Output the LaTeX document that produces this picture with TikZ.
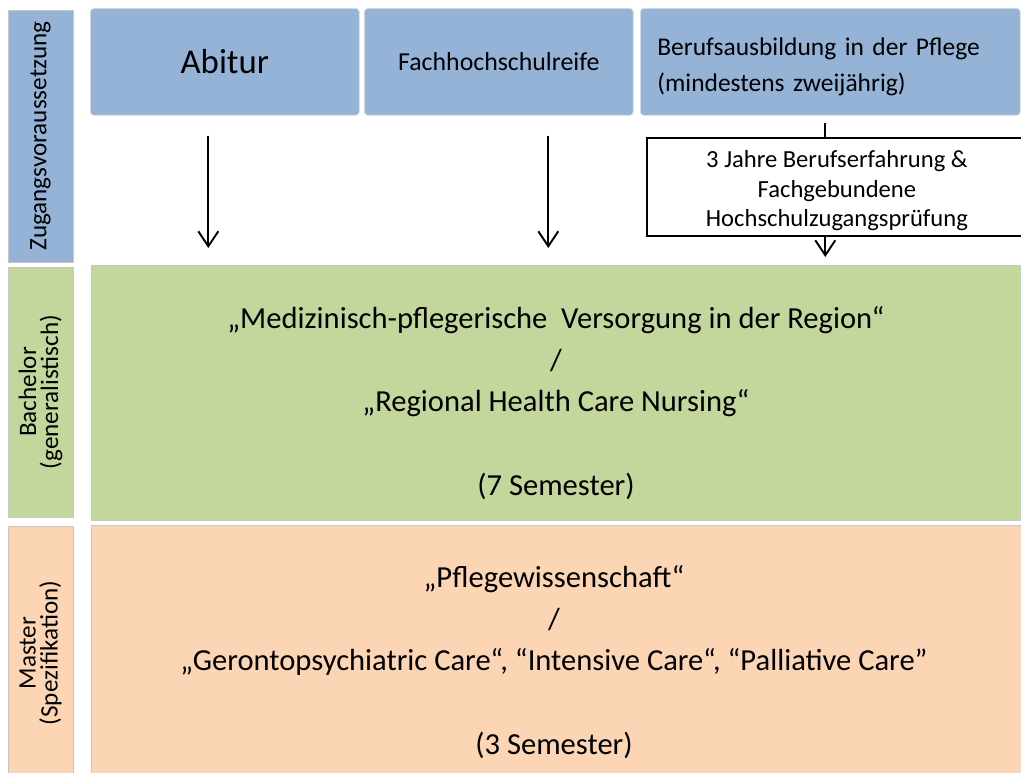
\documentclass[tikz,border=0pt]{standalone}
\usepackage{fontspec}
\setmainfont{Carlito}
\usetikzlibrary{arrows.meta,positioning}

\definecolor{entryblue}{HTML}{95B3D7}
\definecolor{bachgreen}{HTML}{C3D69B}
\definecolor{masterpeach}{HTML}{FCD5B5}

\begin{document}
\begin{tikzpicture}[x=0.02cm, y=-0.02cm,
      >={Straight Barb[length=0.3cm,width=0.4cm,line width=1.1pt]},
      lbl/.style={draw=black!22, line width=0.5pt, rotate=90, minimum height=1.3cm, inner sep=0pt, align=center,
        font=\fontsize{14.3}{12.5}\selectfont},
      entry/.style={draw=black!12, fill=entryblue, rounded corners=2pt, anchor=north west, minimum height=2.14cm, inner sep=0pt, align=center},
      stage/.style={draw=black!22, line width=0.5pt, anchor=north west, minimum width=18.7cm, inner sep=0pt},
      stagetext/.style={align=center, font=\fontsize{17.4}{23.8}\selectfont},
      arr/.style={->, line width=1.1pt}]
    \useasboundingbox (0,0) rectangle (1021,773);
    \clip (0,0) rectangle (1021,773);
    % row labels on the left
    \node[lbl, fill=entryblue, minimum width=5.04cm] (zugang) at (40.5,136) {Zugangsvoraussetzung};
    \node[lbl, fill=bachgreen, minimum width=5.0cm] (bachlbl) at (40.5,392) {Bachelor\\(generalistisch)};
    \node[lbl, fill=masterpeach, minimum width=5.08cm] (masterlbl) at (40.5,653) {Master\\(Spezifikation)};
    % entry requirements
    \node[entry, minimum width=5.38cm, font=\fontsize{19.8}{22}\selectfont] (abitur) at (90,8) {Abitur};
    \node[entry, minimum width=5.38cm, font=\fontsize{14.7}{18}\selectfont] (fhr) at (364,8) {Fachhochschulreife};
    \node[entry, minimum width=7.6cm, text width=6.92cm, inner xsep=0.34cm, align=left,
      font=\fontsize{14.5}{20.4}\selectfont] (beruf) at (640,8) {\rule{0pt}{0.54cm}Berufsausbildung in der Pflege\\(mindestens zweijährig)};
    \node[draw, line width=1.1pt, fill=white, anchor=north west, minimum width=7.6cm, minimum height=1.96cm,
      inner sep=0pt, align=center, font=\fontsize{14}{16.6}\selectfont] (pruef) at (646,137)
      {\rule{0pt}{0.49cm}3 Jahre Berufserfahrung \&\\Fachgebundene\\Hochschulzugangsprüfung};
    % study programmes
    \node[stage, fill=bachgreen, minimum height=5.1cm] (bachelor) at (91,265) {};
    \node[stagetext] (bachtext) at (556,403) {„Medizinisch-pflegerische\ \ Versorgung in der Region“\\/\\„Regional Health Care Nursing“\\[23.8pt](7 Semester)};
    \node[stage, fill=masterpeach, minimum height=5.4cm] (master) at (91,525) {};
    \node[stagetext] (mastertext) at (554,662) {„Pflegewissenschaft“\\/\\„Gerontopsychiatric Care“, “Intensive Care“, “Palliative Care”\\[23.8pt](3 Semester)};
    % arrows
    \draw[arr, shorten <=0.4cm, shorten >=0.34cm] ([xshift=-0.33cm]abitur.south) -- ([xshift=-0.33cm]abitur.south |- bachelor.north);
    \draw[arr, shorten <=0.4cm, shorten >=0.34cm] ([xshift=0.99cm]fhr.south) -- ([xshift=0.99cm]fhr.south |- bachelor.north);
    \draw[line width=1.1pt, shorten <=0.14cm] ([xshift=-0.1cm]beruf.south) -- ([xshift=-0.1cm]beruf.south |- pruef.north);
    \draw[arr, shorten >=0.16cm] ([xshift=-0.1cm]beruf.south |- pruef.south) -- ([xshift=-0.1cm]beruf.south |- bachelor.north);
  \end{tikzpicture}
\end{document}
